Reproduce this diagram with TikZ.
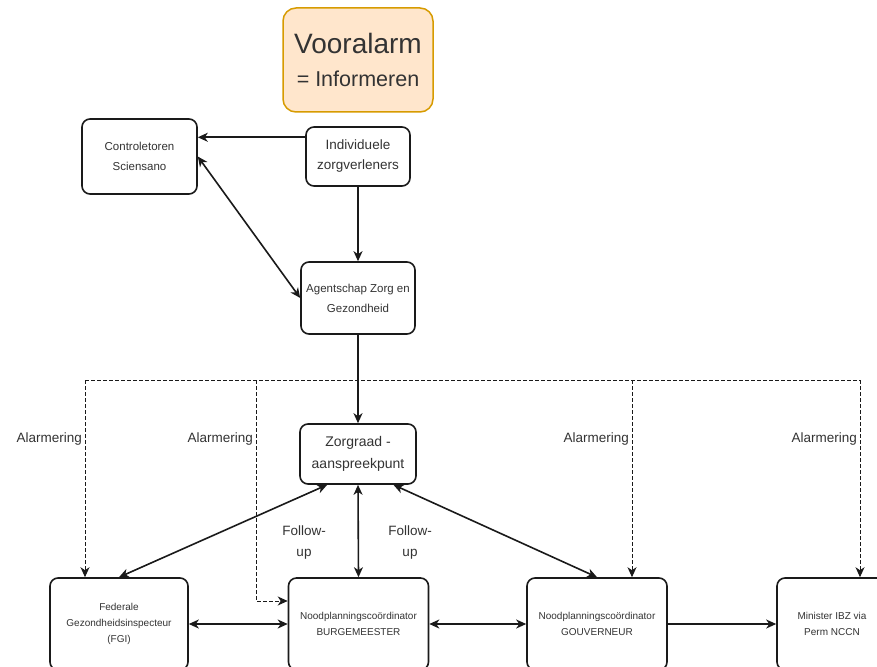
\documentclass[tikz,border=0pt]{standalone}
\usepackage{fontspec}
\setmainfont{Liberation Sans}
\usetikzlibrary{arrows.meta,positioning,calc}
\definecolor{ink}{HTML}{1A1A1A}
\definecolor{txt}{HTML}{333333}
\definecolor{prefill}{HTML}{FFE6CC}
\definecolor{preline}{HTML}{D79B00}
\tikzset{
  box/.style ={draw=ink, line width=1.6pt, rounded corners=8pt, fill=white,
               align=center, text=txt, inner sep=2pt},
  org/.style ={box, font=\fontsize{11.5}{20}\selectfont},
  big/.style ={box, font=\fontsize{13.5}{20}\selectfont},
  low/.style ={box, minimum width=140pt, minimum height=92pt,
               font=\fontsize{10}{16}\selectfont},
  pre/.style ={box, draw=preline, fill=prefill, line width=1.5pt, rounded corners=13pt},
  fl/.style  ={draw=ink, line width=1.6pt, -{Stealth[length=10pt,width=9pt,inset=3pt]}},
  bi/.style  ={fl, {Stealth[length=10pt,width=9pt,inset=3pt]}-{Stealth[length=10pt,width=9pt,inset=3pt]}},
  dl/.style  ={draw=ink, line width=1pt, dash pattern=on 3.5pt off 2.5pt},
  dfl/.style ={dl, -{Stealth[length=10pt,width=9pt,inset=3pt]}},
  w/.style   ={text=txt, font=\fontsize{13.5}{21}\selectfont, inner sep=1pt, align=center},
}

\begin{document}
\begin{tikzpicture}[x=1pt,y=-1pt]
  \useasboundingbox[fill=white] (0,0) rectangle (877,666);
  \node[pre, minimum width=150pt, minimum height=104pt, font=\fontsize{21.5}{33}\selectfont] (pre)
       at (358,60) {{\fontsize{28}{33}\selectfont Vooralarm}\\= Informeren};
  \node[org, minimum width=115pt, minimum height=75pt] (ctrl) at (139.5,156.5) {Controletoren\\Sciensano};
  \node[big, minimum width=104pt, minimum height=59pt] (indiv) at (358,156.5) {Individuele\\zorgverleners};
  \node[org, minimum width=114pt, minimum height=72pt] (agent) at (358,298) {Agentschap Zorg en\\Gezondheid};
  \node[big, font=\fontsize{14}{22}\selectfont, minimum width=116pt, minimum height=60pt] (zorg)
       at (358,454) {Zorgraad -\\aanspreekpunt};
  % bottom row is cut off by the page edge, as in the source
  \node[low, minimum width=138pt] (fgi) at (119,624) {Federale\\Gezondheidsinspecteur\\(FGI)};
  \node[low] (burg) at (358.5,624) {Noodplanningscoördinator\\BURGEMEESTER};
  \node[low] (gouv) at (597,624) {Noodplanningscoördinator\\GOUVERNEUR};
  \node[low, minimum width=110pt] (mini) at (832,624) {Minister IBZ via\\Perm NCCN};

  \draw[fl] (indiv.160) -- (indiv.160 -| ctrl.east);
  \draw[fl] (indiv) -- (agent);
  \draw[bi] (ctrl.east) -- (agent.west);
  \draw[fl] (agent) -- (zorg);

  % alarm bus
  \coordinate (bus) at (358,380);
  \coordinate (a1) at (85,380);
  \coordinate (a2) at (256,380);
  \coordinate (a3) at (632,380);
  \coordinate (a4) at (860,380);
  \draw[dl] (agent.south) -- (bus);
  \draw[dl] (a1) -- (a4);
  \draw[dfl] (a1) -- (a1 |- fgi.north);
  \draw[dfl] (a2) |- (burg.162);
  \draw[dfl] (a3) -- (a3 |- gouv.north);
  \draw[dfl] (a4) -- (a4 |- mini.north);
  \node[w, anchor=east] (l1) at (83,439) {Alarmering};
  \node[w, anchor=east] (l2) at (254,439) {Alarmering};
  \node[w, anchor=east] (l3) at (630,439) {Alarmering};
  \node[w, anchor=east] (l4) at (858,439) {Alarmering};

  \draw[bi] (zorg.225) -- (fgi.north);
  \draw[bi] (zorg.south) -- (burg.north);
  \draw[bi] (zorg.319) -- (gouv.north);
  \draw[bi] (fgi) -- (burg);
  \draw[bi] (burg) -- (gouv);
  \draw[fl] (gouv) -- (mini);
  \node[w] (f1) at (304,543) {Follow-\\up};
  \node[w] (f2) at (410,543) {Follow-\\up};
\end{tikzpicture}
\end{document}
